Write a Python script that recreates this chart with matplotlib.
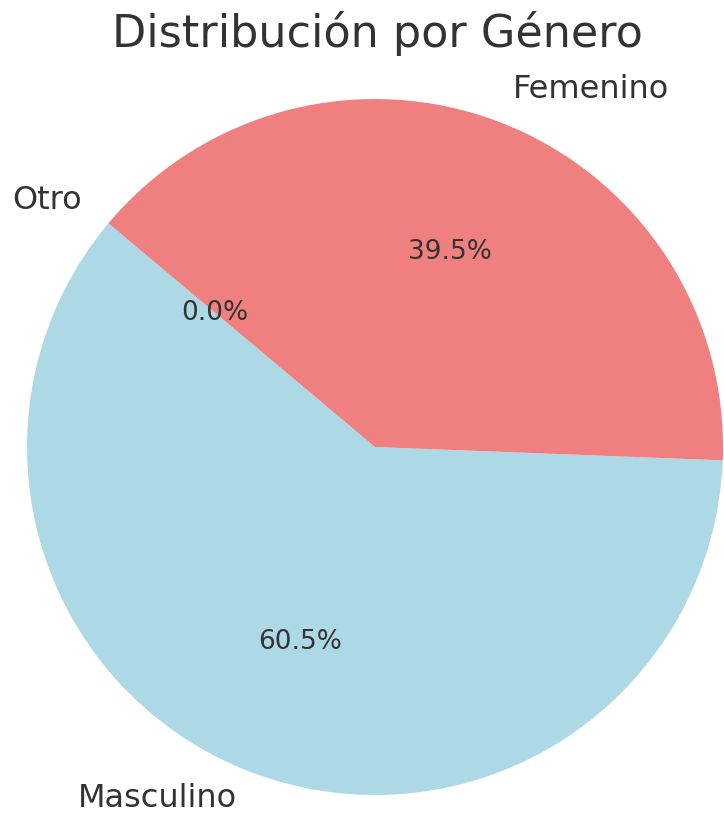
import matplotlib
matplotlib.use("Agg")
from matplotlib import pyplot as plt

labels = ["Masculino", "Femenino", "Otro"]
values = [60.5, 39.5, 0.0]
colors = ["lightblue", "lightcoral", "lightgreen"]

plt.rcParams["text.color"] = ".2"

fig = plt.figure(figsize=(7.24, 8.17), dpi=100)
ax = fig.add_axes([0, 0, 1, 1])

wedges, texts, autotexts = ax.pie(values, labels=labels, colors=colors,
                                  autopct="%1.1f%%", startangle=140,
                                  textprops={"fontsize": 23})
for t in autotexts:
    t.set_fontsize(19)

# pie centre at (375, 447) px, radius 348 px
r = 348.0
ax.set_xlim(-375 / r, (724 - 375) / r)
ax.set_ylim(-(817 - 447) / r, 447 / r)
ax.set_aspect("auto")
ax.axis("off")

# keep the bottom label inside the figure
x, y = texts[0].get_position()
texts[0].set_position((x, y + 6 / r))

fig.text(377 / 724, 1 - 33 / 817, "Distribución por Género", fontsize=32,
         ha="center", va="center")

fig.savefig("out.png", dpi=100)
